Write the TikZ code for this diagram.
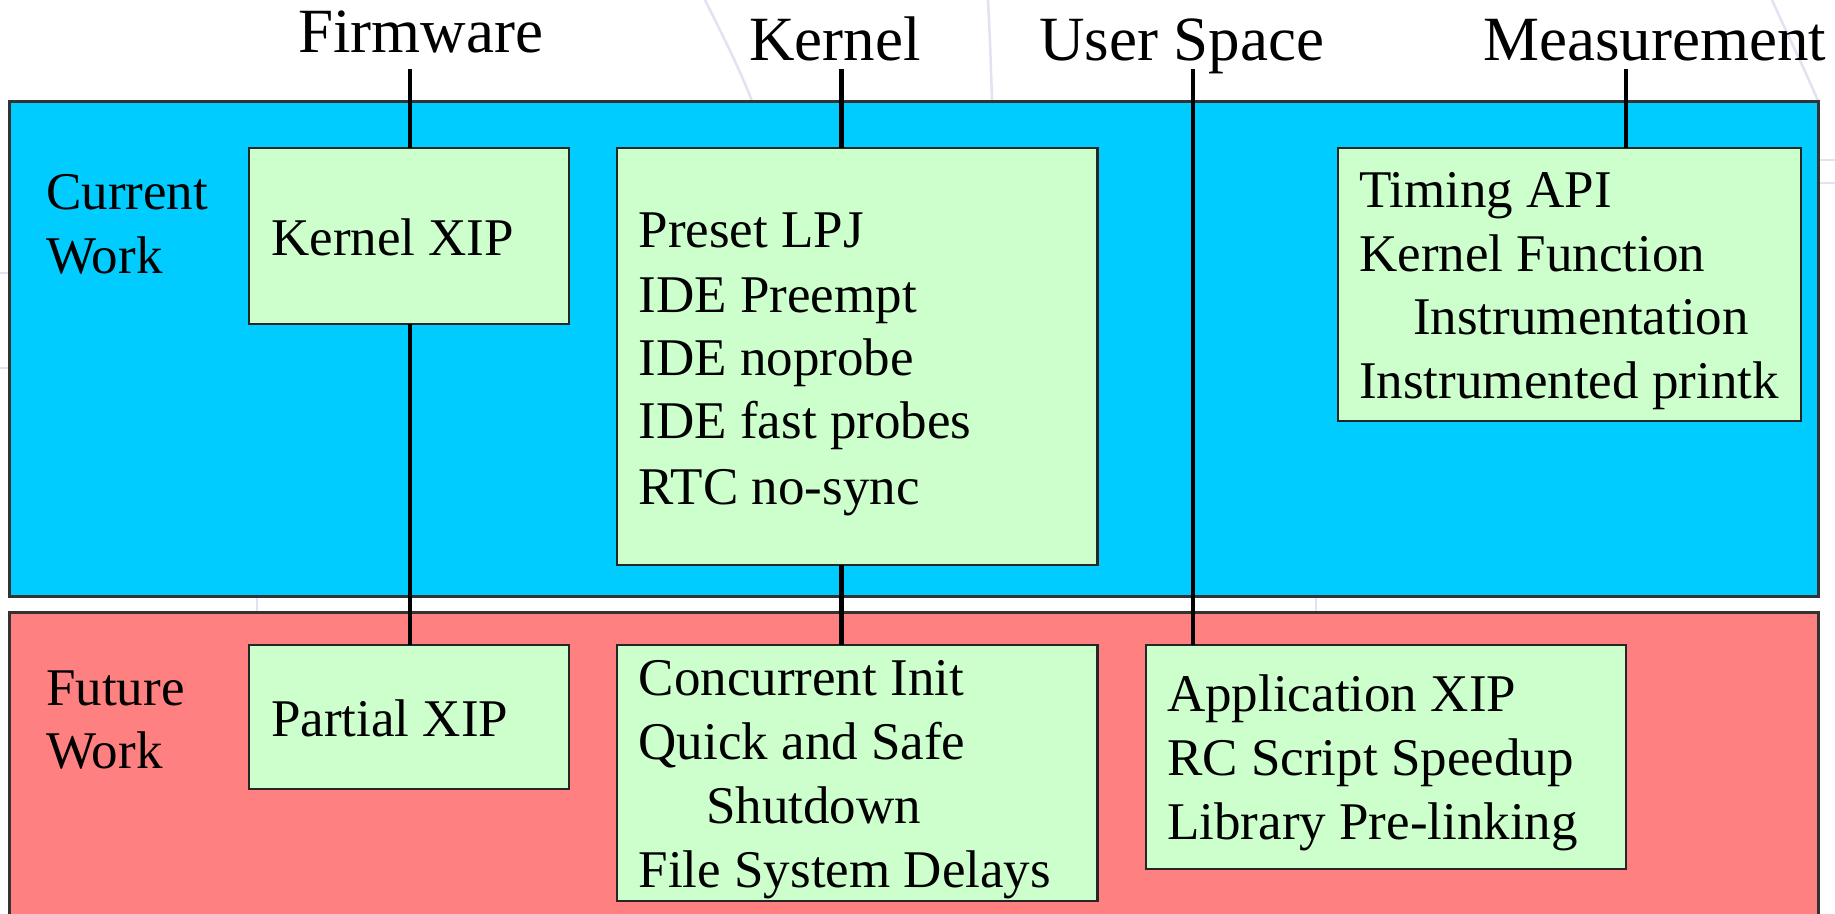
\documentclass[tikz,border=0pt]{standalone}
\usepackage{fontspec}
\setmainfont{Liberation Serif}
\definecolor{curblue}{HTML}{00CCFF}
\definecolor{futpink}{HTML}{FF8080}
\definecolor{boxgreen}{HTML}{CCFFCC}
\definecolor{faint}{RGB}{228,226,242}
\begin{document}
\begin{tikzpicture}[x=1pt,y=-1pt,
  region/.style={draw=black!80,line width=3pt,inner sep=0pt,outer sep=0pt,anchor=north west},
  itembox/.style={draw=black!85,line width=2.5pt,fill=boxgreen,inner sep=0pt,outer sep=0pt,anchor=north west},
  head/.style={font=\fontsize{63}{70}\selectfont,anchor=base west,inner sep=0pt},
  txt/.style={font=\fontsize{53}{64}\selectfont,anchor=base west,inner sep=0pt},
  conn/.style={line width=4.5pt,black}]
\useasboundingbox (0,0) rectangle (1835,913);
\fill[white] (0,0) rectangle (1835,913);
% faint background traces
\draw[faint,line width=2.5pt] (705,0) .. controls (725,40) and (740,70) .. (752,101);
\draw[faint,line width=2.5pt] (988,0) .. controls (990,40) .. (992,101);
\draw[faint,line width=2.5pt] (1772,0) .. controls (1790,40) and (1805,70) .. (1818,101);
\draw[faint,line width=2.5pt] (257,596) -- (257,612);
\draw[faint,line width=2.5pt] (1316,596) -- (1316,612);
\draw[faint,line width=2pt] (0,273) -- (9,273);
\draw[faint,line width=2pt] (0,368) -- (9,368);
\draw[faint,line width=2pt] (1818,160) -- (1835,160);
\draw[faint,line width=2pt] (1818,183) -- (1835,183);
% regions
\node[region,fill=curblue,minimum width=1809pt,minimum height=495pt] (cur) at (9,101) {};
\node[region,fill=futpink,minimum width=1809pt,minimum height=320pt] (fut) at (9,612) {};
% headers
\node[head] (hfw) at (298,52) {Firmware};
\node[head] (hkn) at (749,60) {Kernel};
\node[head] (hus) at (1039,60) {User Space};
\node[head] (hms) at (1483,60) {Measurement};
\coordinate (fwtop) at (410,69);
\coordinate (kntop) at (841.5,69);
\coordinate (ustop) at (1193,69);
\coordinate (mstop) at (1626,69);
% boxes
\node[itembox,minimum width=320pt,minimum height=176pt] (kxip) at (249,148) {};
\node[itembox,minimum width=480.5pt,minimum height=417pt] (kbox) at (617,148) {};
\node[itembox,minimum width=463pt,minimum height=273pt] (mbox) at (1338,148) {};
\node[itembox,minimum width=320pt,minimum height=144pt] (pxip) at (249,645) {};
\node[itembox,minimum width=480.5pt,minimum height=256pt] (cbox) at (617,645) {};
\node[itembox,minimum width=480pt,minimum height=224pt] (abox) at (1146,645) {};
% connectors
\draw[conn] (fwtop) -- (kxip.north -| fwtop);
\draw[conn] (kxip.south -| fwtop) -- (pxip.north -| fwtop);
\draw[conn] (kntop) -- (kbox.north -| kntop);
\draw[conn] (kbox.south -| kntop) -- (cbox.north -| kntop);
\draw[conn] (ustop) -- (abox.north -| ustop);
\draw[conn] (mstop) -- (mbox.north -| mstop);
% region labels
\node[txt] (lc1) at (46,209) {Current};
\node[txt] (lc2) at (46,273) {Work};
\node[txt] (lf1) at (46,705) {Future};
\node[txt] (lf2) at (46,768) {Work};
% box texts
\node[txt] (t1) at (271,255) {Kernel XIP};
\node[txt] (t2) at (638.5,247) {Preset LPJ};
\node[txt] (t3) at (638.5,312) {IDE Preempt};
\node[txt] (t4) at (638.5,375) {IDE noprobe};
\node[txt] (t5) at (638.5,438) {IDE fast probes};
\node[txt] (t6) at (638.5,504) {RTC no-sync};
\node[txt] (t7) at (1359,207) {Timing API};
\node[txt] (t8) at (1359,271) {Kernel Function};
\node[txt] (t9) at (1413,334) {Instrumentation};
\node[txt] (t10) at (1359,398) {Instrumented printk};
\node[txt] (t11) at (271,736) {Partial XIP};
\node[txt] (t12) at (638.5,695) {Concurrent Init};
\node[txt] (t13) at (638.5,759) {Quick and Safe};
\node[txt] (t14) at (706,823) {Shutdown};
\node[txt] (t15) at (638.5,887) {File System Delays};
\node[txt] (t16) at (1167,711) {Application XIP};
\node[txt] (t17) at (1167,775) {RC Script Speedup};
\node[txt] (t18) at (1167,839) {Library Pre-linking};
\end{tikzpicture}
\end{document}
